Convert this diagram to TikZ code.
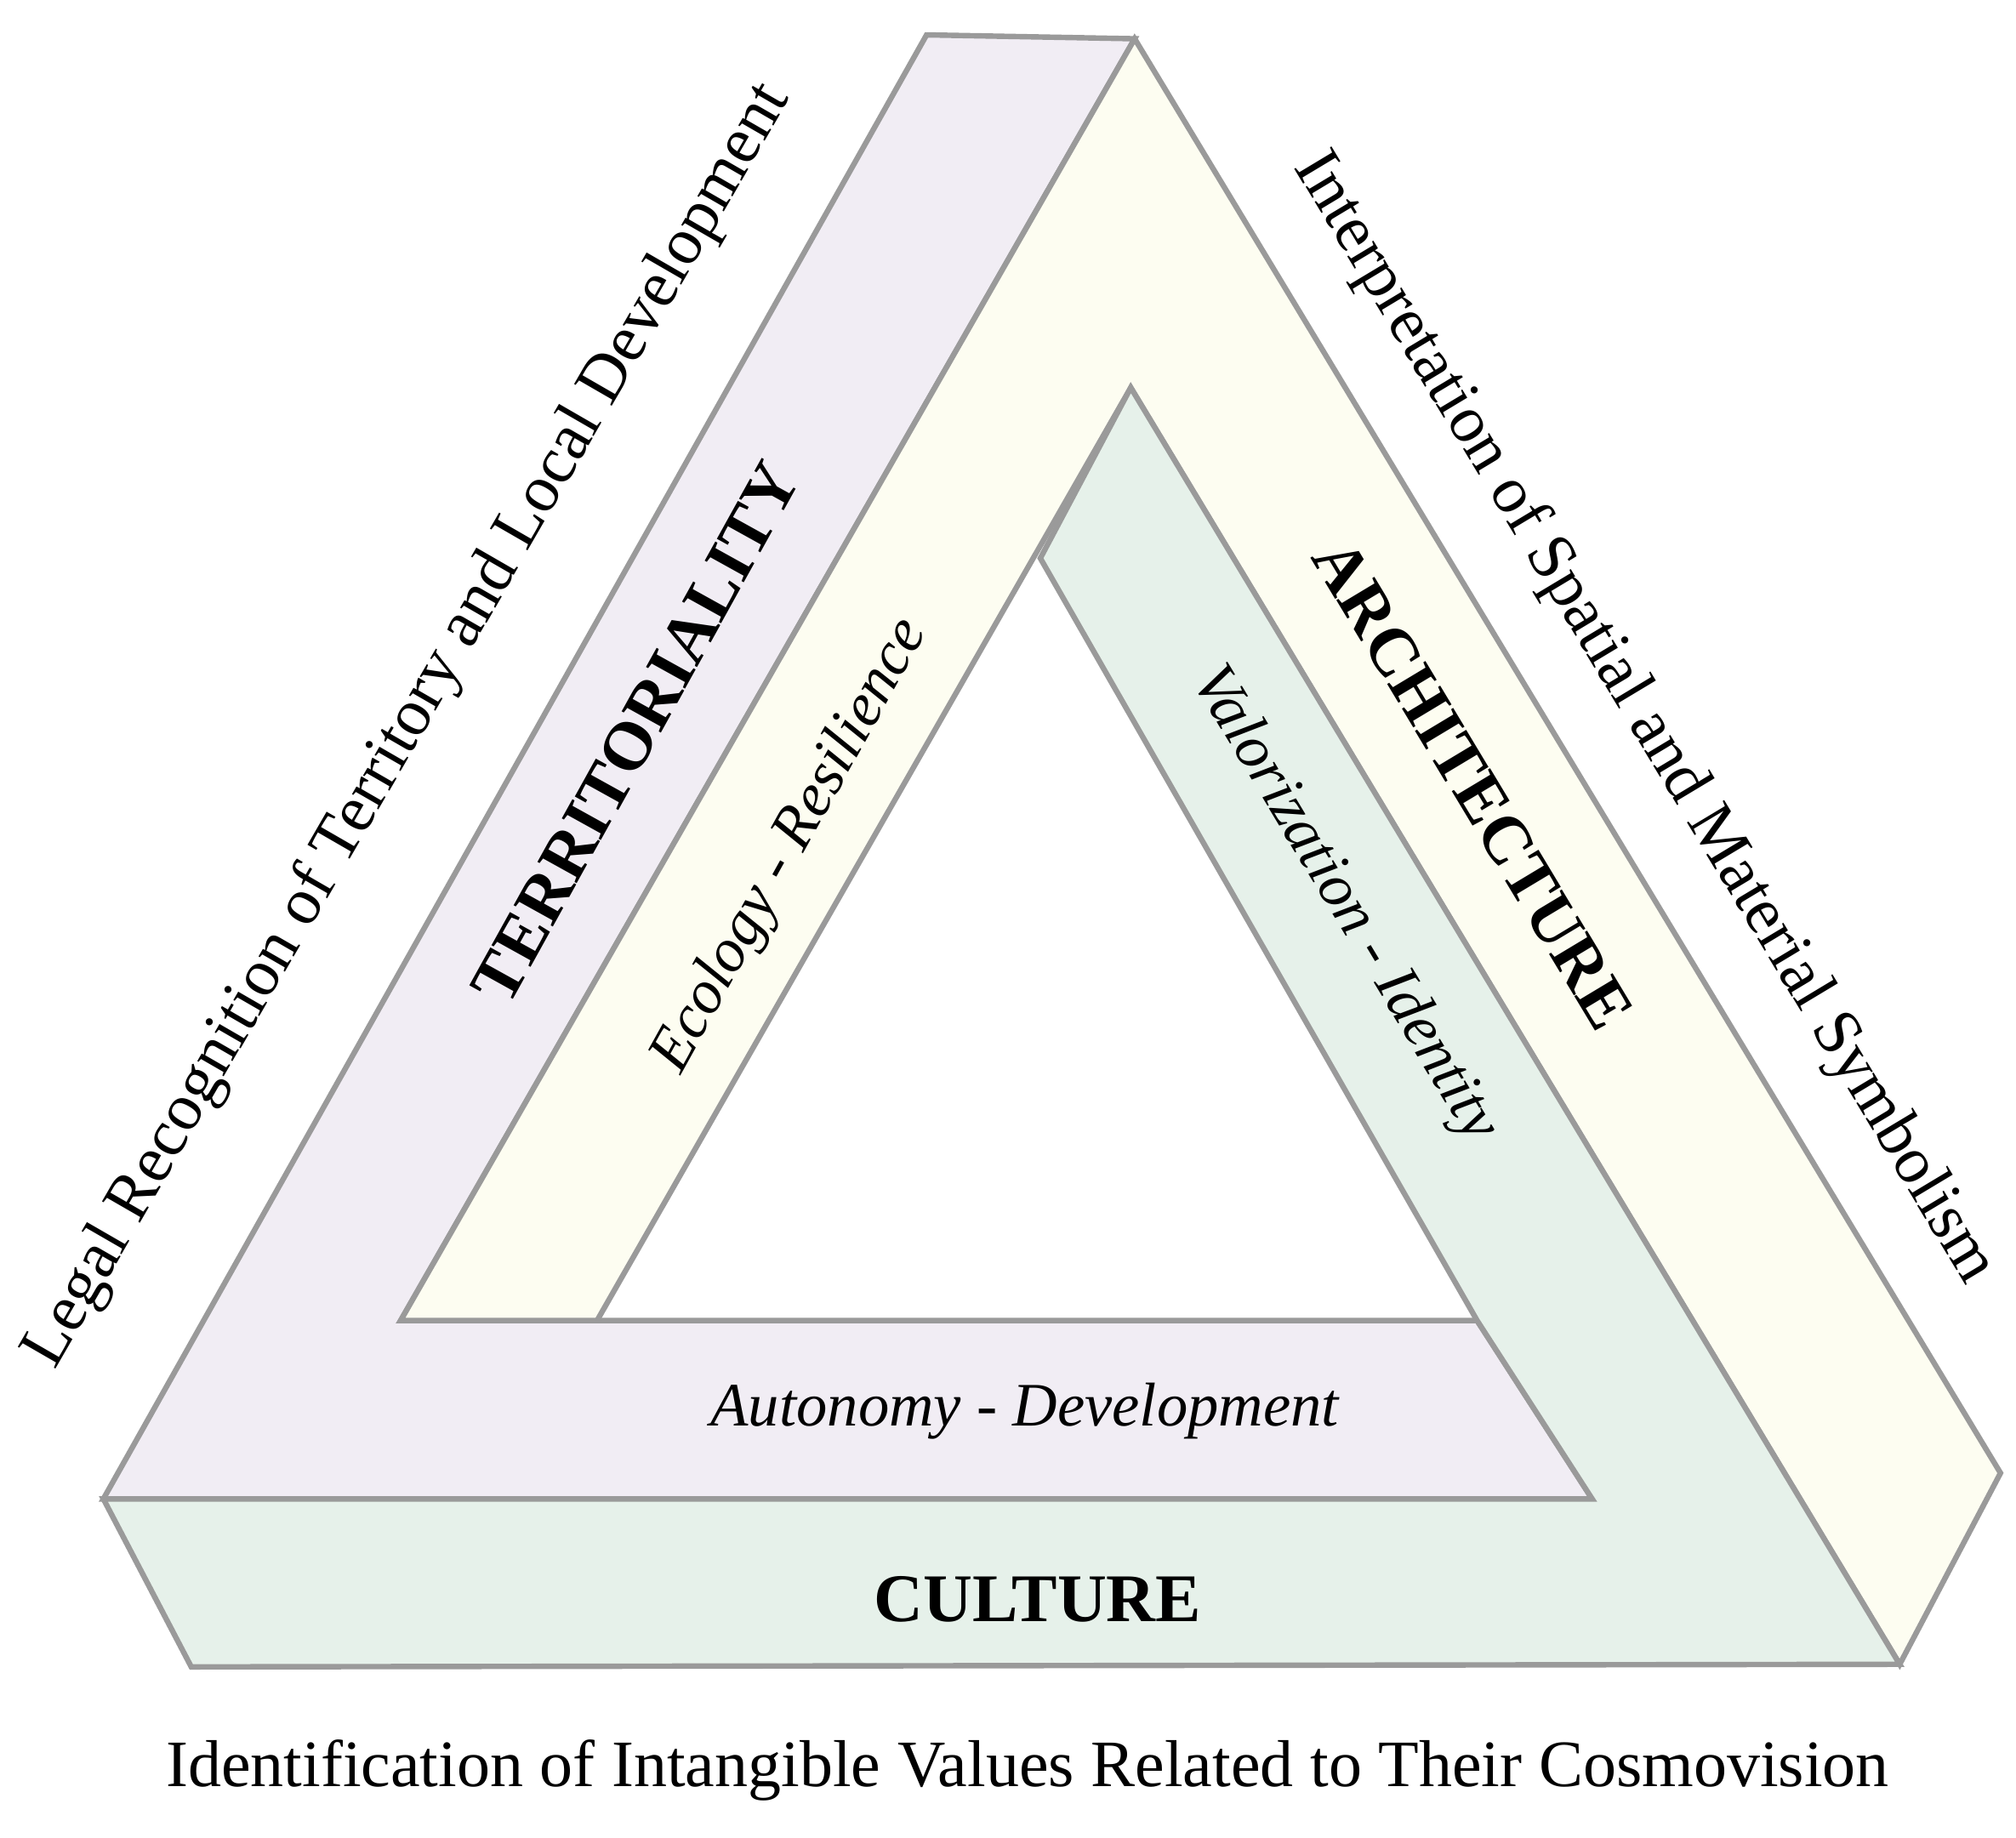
\documentclass[tikz,border=0pt]{standalone}
\usepackage{fontspec}
\setmainfont{Liberation Serif}
\usetikzlibrary{positioning}

\definecolor{terrfill}{HTML}{F1EDF4}
\definecolor{archfill}{HTML}{FDFDF1}
\definecolor{cultfill}{HTML}{E6F1EA}
\definecolor{edgegray}{HTML}{9A9A9A}

\tikzset{
	band/.style={draw=edgegray, line width=1.2pt, line join=miter},
	outer/.style={font=\fontsize{14.6}{17}\selectfont, inner sep=0pt},
	title/.style={font=\fontsize{15}{18}\selectfont\bfseries, inner sep=0pt},
	value/.style={font=\fontsize{13.6}{16}\selectfont\itshape, inner sep=0pt}
}

\begin{document}
\begin{tikzpicture}[x=0.01cm,y=-0.01cm]
	\useasboundingbox (0,0) rectangle (1560,1422);
	
	% the three bands
	\filldraw[band,fill=terrfill] (717,27)--(878,30)--(310,1022)--(1143,1022)--(1232,1160)--(80,1160)--cycle;
	\filldraw[band,fill=archfill] (878,30)--(1548,1140)--(1470,1288)--(875,300)--(462,1022)--(310,1022)--cycle;
	\filldraw[band,fill=cultfill] (875,300)--(1470,1288)--(148,1290)--(80,1160)--(1232,1160)--(1143,1022)--(805,432)--cycle;
	
	\node[title,rotate=61] (terr) at (492,567) {TERRITORIALITY};
	\node[title,rotate=-59] (arch) at (1140,607) {ARCHITECTURE};
	\node[title] (cult) at (803,1238) {CULTURE};
	
	\node[value,rotate=61] (eco) at (612,655) {Ecology - Resilience};
	\node[value,rotate=-59] (val) at (1040,700) {Valorization - Identity};
	\node[value] (auto) at (793,1092) {Autonomy - Development};
	
	\node[outer,rotate=60] (legal) at (316,562) {Legal Recognition of Territory and Local Development};
	\node[outer,rotate=-59] (interp) at (1272,556) {Interpretation of Spatial and Material Symbolism};
	\node[outer] (ident) at (795,1370) {Identification of Intangible Values Related to Their Cosmovision};
\end{tikzpicture}
\end{document}
